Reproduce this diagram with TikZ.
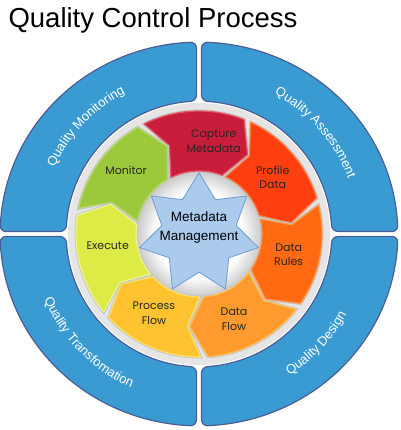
\documentclass[tikz,border=0pt]{standalone}
\usepackage{fontspec}
\setmainfont{Liberation Sans}
\newfontfamily\segfont{Poppins}
\usetikzlibrary{shapes.geometric,decorations.text}

\definecolor{ringblue}{HTML}{3A9BD2}
\definecolor{ringedge}{HTML}{4B5D95}
\definecolor{capfill}{HTML}{C81E3C}
\definecolor{capedge}{HTML}{E45A64}
\definecolor{proffill}{HTML}{FF3F0F}
\definecolor{profedge}{HTML}{FF7A3A}
\definecolor{rulefill}{HTML}{FF6A12}
\definecolor{ruleedge}{HTML}{FF9A4A}
\definecolor{dflowfill}{HTML}{FF9B2E}
\definecolor{dflowedge}{HTML}{FFC05A}
\definecolor{pflowfill}{HTML}{FFC332}
\definecolor{pflowedge}{HTML}{FFE066}
\definecolor{execfill}{HTML}{DCEB45}
\definecolor{execedge}{HTML}{EEF58A}
\definecolor{monfill}{HTML}{9CC83C}
\definecolor{monedge}{HTML}{B6D86A}
\definecolor{starblue}{HTML}{AACBEB}
\definecolor{staredge}{HTML}{6F9CD2}

\newcommand\ringfont{\fontsize{13}{15}\selectfont}
\pgfdeclareradialshading{hubshade}{\pgfpoint{0bp}{0bp}}{color(0bp)=(white); color(17bp)=(white); color(25bp)=(gray!45); color(50bp)=(gray!45)}

\begin{document}
\begin{tikzpicture}[x=1pt, y=1pt,
                    ring_style/.style={fill=ringblue, draw=ringedge, line width=1.2pt, rounded corners=6pt},
                    ring_text/.style={decorate, decoration={text along path, text align=center,
                                      text color=white, text={|\ringfont|#1}}},
                    seg_style/.style={preaction={draw=gray!45, line width=3pt}, line width=1.2pt, line join=round},
                    lbl_style/.style={font=\segfont\fontsize{11}{14.5}\selectfont, align=center, text=black!85}
   ]
   \useasboundingbox (-199,-196) rectangle (201,234);
   \node[anchor=base west, font=\fontsize{27.5}{32}\selectfont] (title) at (-194,206) {Quality Control Process};

   % outer blue ring
   \draw[ring_style] plot[domain=89.25:0.72, samples=21] ({199*cos(\x)},{192*sin(\x)})
        -- plot[domain=1.08:88.92, samples=16] ({133*cos(\x)},{133*sin(\x)}) -- cycle;
   \draw[ring_style, xscale=-1] plot[domain=89.25:0.72, samples=21] ({199*cos(\x)},{192*sin(\x)})
        -- plot[domain=1.08:88.92, samples=16] ({133*cos(\x)},{133*sin(\x)}) -- cycle;
   \draw[ring_style, xscale=-1, yscale=-1] plot[domain=89.25:0.72, samples=21] ({199*cos(\x)},{192*sin(\x)})
        -- plot[domain=1.08:88.92, samples=16] ({133*cos(\x)},{133*sin(\x)}) -- cycle;
   \draw[ring_style, yscale=-1] plot[domain=89.25:0.72, samples=21] ({199*cos(\x)},{192*sin(\x)})
        -- plot[domain=1.08:88.92, samples=16] ({133*cos(\x)},{133*sin(\x)}) -- cycle;

   \path[ring_text={Quality Monitoring}] (160:159) arc[start angle=160, end angle=113, radius=159];
   \path[ring_text={Quality Assessment}] (66:159) arc[start angle=66, end angle=16, radius=159];
   \path[ring_text={Quality Transfomation}] (-163:168) arc[start angle=-163, end angle=-108, radius=168];
   \path[ring_text={Quality Design}] (-70:168) arc[start angle=-70, end angle=-16, radius=168];

   % inner cycle
   \fill[gray!20] (0,0) circle[radius=131];
   \shade[shading=hubshade] (0,0) circle[radius=64];

   \draw[seg_style, fill=capfill, draw=capedge] (68.5:63) -- (58.5:93) -- (68.5:123) arc[start angle=68.5, end angle=116.5, radius=123]
        -- (108.5:93) -- (116.5:63) arc[start angle=116.5, end angle=68.5, radius=63] -- cycle;
   \draw[seg_style, fill=proffill, draw=profedge] (17.07:63) -- (7.07:93) -- (17.07:123) arc[start angle=17.07, end angle=65.07, radius=123]
        -- (57.07:93) -- (65.07:63) arc[start angle=65.07, end angle=17.07, radius=63] -- cycle;
   \draw[seg_style, fill=rulefill, draw=ruleedge] (-34.36:63) -- (-44.36:93) -- (-34.36:123) arc[start angle=-34.36, end angle=13.64, radius=123]
        -- (5.64:93) -- (13.64:63) arc[start angle=13.64, end angle=-34.36, radius=63] -- cycle;
   \draw[seg_style, fill=dflowfill, draw=dflowedge] (-85.79:63) -- (-95.79:93) -- (-85.79:123) arc[start angle=-85.79, end angle=-37.79, radius=123]
        -- (-45.79:93) -- (-37.79:63) arc[start angle=-37.79, end angle=-85.79, radius=63] -- cycle;
   \draw[seg_style, fill=pflowfill, draw=pflowedge] (-137.22:63) -- (-147.22:93) -- (-137.22:123) arc[start angle=-137.22, end angle=-89.22, radius=123]
        -- (-97.22:93) -- (-89.22:63) arc[start angle=-89.22, end angle=-137.22, radius=63] -- cycle;
   \draw[seg_style, fill=execfill, draw=execedge] (-188.65:63) -- (-198.65:93) -- (-188.65:123) arc[start angle=-188.65, end angle=-140.65, radius=123]
        -- (-148.65:93) -- (-140.65:63) arc[start angle=-140.65, end angle=-188.65, radius=63] -- cycle;
   \draw[seg_style, fill=monfill, draw=monedge] (119.92:63) -- (109.92:93) -- (119.92:123) arc[start angle=119.92, end angle=167.92, radius=123]
        -- (159.92:93) -- (167.92:63) arc[start angle=167.92, end angle=119.92, radius=63] -- cycle;

   \node[lbl_style] (capture) at (81:94) {Capture\\Metadata};
   \node[lbl_style] (profile) at (37.6:93) {Profile\\Data};
   \node[lbl_style] (rules) at (-13:92) {Data\\Rules};
   \node[lbl_style] (dflow) at (-67.6:92) {Data\\Flow};
   \node[lbl_style] (pflow) at (-119.7:91) {Process\\Flow};
   \node[lbl_style] (execute) at (-173:92) {Execute};
   \node[lbl_style] (monitor) at (138.8:97) {Monitor};

   % hub
   \node[star, star points=7, star point ratio=1.6, minimum size=122pt, inner sep=0pt,
         fill=starblue, draw=staredge, line width=0.8pt] (hub) at (0,0) {};
   \node[font=\fontsize{13.5}{19}\selectfont, align=center] (hubtext) at (0,6) {Metadata\\Management};
\end{tikzpicture}
\end{document}
